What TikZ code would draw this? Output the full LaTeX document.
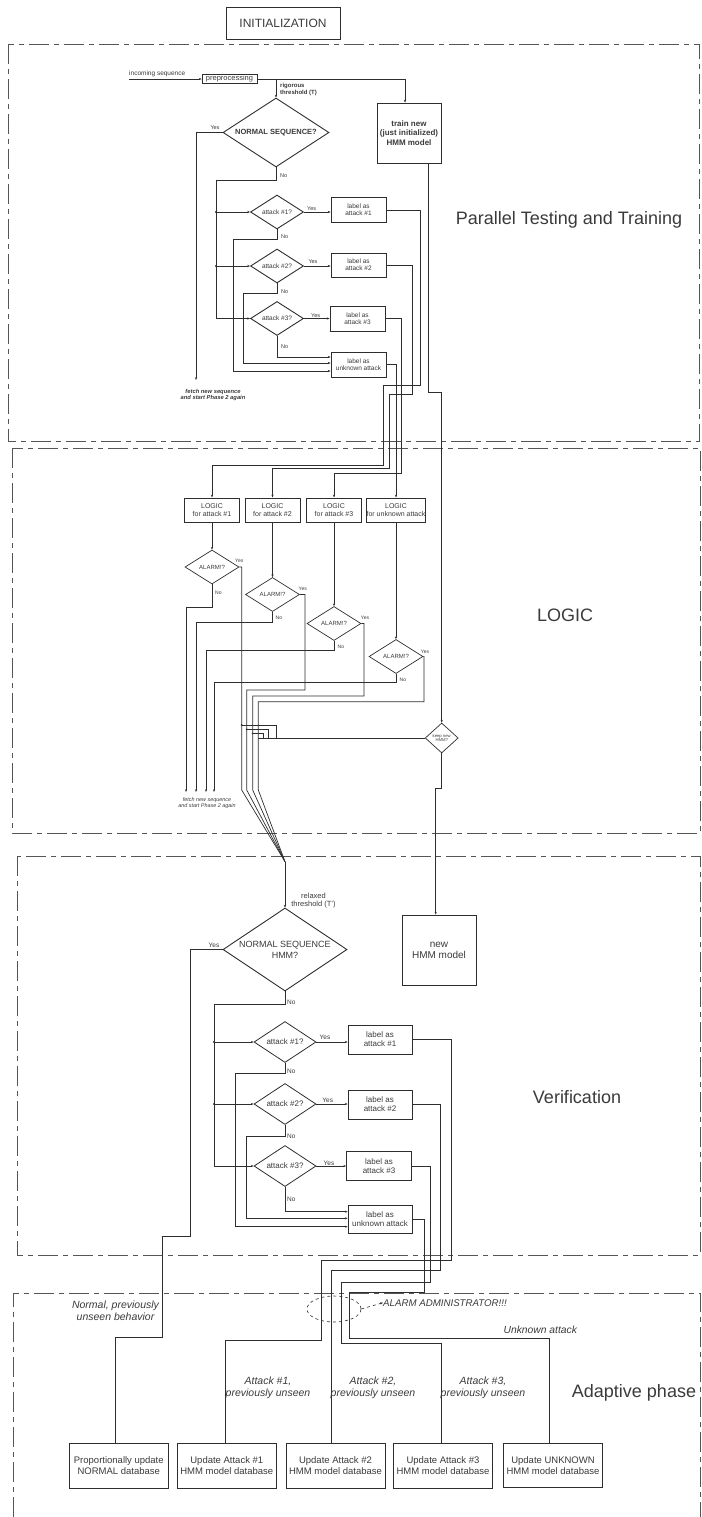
\documentclass[tikz,border=0pt]{standalone}
\usepackage{fontspec}
\setmainfont{Liberation Sans}
\usetikzlibrary{shapes.geometric,arrows.meta}
\definecolor{lc}{HTML}{2E2E2E}
\definecolor{tc}{HTML}{3A3A3A}
\definecolor{bc}{HTML}{555555}
\newcommand{\fsz}[2]{\fontsize{#1}{#2}\selectfont}
\begin{document}
\begin{tikzpicture}[x=1pt,y=-1pt,
  ln/.style={draw=lc,line width=0.7pt},
  thk/.style={draw=lc,line width=0.95pt},
  arr/.style={-{Stealth[length=2.8pt,width=2.2pt]}},
  panel/.style={draw=bc,line width=0.9pt,dash pattern=on 20pt off 5pt on 5pt off 5pt},
  bx/.style={draw=lc,line width=0.9pt,rectangle,inner sep=0pt,align=center,text=tc},
  dm/.style={draw=lc,line width=0.9pt,diamond,inner sep=0pt,align=center,text=tc},
  lb/.style={text=tc,inner sep=0pt},
  yn/.style={text=tc,inner sep=0pt,font=\fsz{5.5}{6}},
  dot/.style={circle,fill=lc,inner sep=0pt,minimum size=2.4pt},
]
\useasboundingbox (0,0) rectangle (701,1517);

% ---------- panels ----------
\draw[panel] (8,44) rectangle (699,441);
\draw[panel] (12,448) rectangle (700,833);
\draw[panel] (17,856) rectangle (700,1255);
\draw[panel] (13,1517) -- (13,1293) -- (700,1293) -- (700,1517);

\node[bx,line width=0.8pt,minimum width=114pt,minimum height=32pt,font=\fsz{12}{14}] (init) at (283,23) {INITIALIZATION};

\node[lb,font=\fsz{18}{20}] (t1) at (569,220) {Parallel Testing and Training};
\node[lb,font=\fsz{18}{20}] (t2) at (565,615) {LOGIC};
\node[lb,font=\fsz{18}{20}] (t3) at (577,1097) {Verification};
\node[lb,font=\fsz{18}{20}] (t4) at (634,1393) {Adaptive phase};

% ---------- panel 1 ----------
\node[bx,line width=0.6pt,minimum width=55pt,minimum height=8.5pt,font=\fsz{7.5}{8}] (pre) at (229.5,79) {preprocessing};
\coordinate (inc) at (129,79);
\node[lb,anchor=south west,font=\fsz{6.5}{7}] (inct) at (129,77.5) {incoming sequence};
\draw[ln,arr] (inc) -- (pre.west);

\node[dm,minimum width=106pt,minimum height=69pt,aspect=1.54,font=\bfseries\fsz{7.5}{9}] (n1) at (276,132.5) {NORMAL SEQUENCE?};
\node[bx,minimum width=64pt,minimum height=60pt,font=\bfseries\fsz{8}{9.2}] (train) at (409,133) {train new\\(just initialized)\\HMM model};
\draw[thk,arr] (pre.east) -| ([xshift=-4pt]train.north);
\coordinate (j0) at (276,79);
\draw[thk,arr] (j0) -- (n1.north);
\node[lb,anchor=north west,align=left,font=\bfseries\fsz{6}{7}] (rig) at (280,83) {rigorous\\threshold (T)};

\coordinate (f1) at (196,380);
\draw[thk,arr] (n1.west) -- (196,132.5) -- (f1);
\node[yn] at (215,128) {Yes};
\node[lb,font=\bfseries\itshape\fsz{5.8}{6.5},align=center] (fetch1) at (213,395) {fetch new sequence\\and start Phase 2 again};

\node[dm,minimum width=53pt,minimum height=34pt,aspect=1.56,font=\fsz{6.5}{7}] (a1) at (277,212) {attack \#1?};
\node[dm,minimum width=53pt,minimum height=34pt,aspect=1.56,font=\fsz{6.5}{7}] (a2) at (277,266) {attack \#2?};
\node[dm,minimum width=53pt,minimum height=34pt,aspect=1.56,font=\fsz{6.5}{7}] (a3) at (277,318.5) {attack \#3?};

\node[bx,minimum width=55pt,minimum height=25pt,font=\fsz{6.5}{7.2}] (l1) at (358.5,210) {label as\\attack \#1};
\node[bx,minimum width=55pt,minimum height=24pt,font=\fsz{6.5}{7.2}] (l2) at (358.5,265) {label as\\attack \#2};
\node[bx,minimum width=55pt,minimum height=25pt,font=\fsz{6.5}{7.2}] (l3) at (357.5,318.5) {label as\\attack \#3};
\node[bx,minimum width=55pt,minimum height=25pt,font=\fsz{6.5}{7.2}] (lu) at (358.5,364.5) {label as\\unknown attack};

\draw[thk,arr] (n1.south) -- (276,180) -| (216,318.5) -- (a3.west);
\node[yn,anchor=west] at (280,176) {No};
\draw[thk,arr] (216,212) -- (a1.west);
\draw[thk,arr] (216,266) -- (a2.west);
\node[dot] at (216,212) {};
\node[dot] at (216,266) {};

\draw[thk,arr] (a1.east) -- (a1.east -| l1.west);
\draw[thk,arr] (a2.east) -- (a2.east -| l2.west);
\draw[thk,arr] (a3.east) -- (a3.east -| l3.west);
\node[yn] at (311.7,209) {Yes};
\node[yn] at (313,261.7) {Yes};
\node[yn] at (315.7,316) {Yes};

\draw[thk,arr] (a1.south) -- (277,239) -- (233,239) -- (233,371) -- (lu.west |- 0,371);
\draw[thk,arr] (a2.south) -- (277,293) -- (243,293) -- (243,363) -- (lu.west |- 0,363);
\draw[thk,arr] (a3.south) -- (277,357) -- (lu.west |- 0,357);
\node[yn,anchor=west] at (281,237) {No};
\node[yn,anchor=west] at (281,292) {No};
\node[yn,anchor=west] at (281,347) {No};

% ---------- panel 2 ----------
\node[bx,line width=0.7pt,minimum width=55pt,minimum height=24.3pt,font=\fsz{7}{7.7}] (L1) at (212,510) {LOGIC\\for attack \#1};
\node[bx,line width=0.7pt,minimum width=55pt,minimum height=24.3pt,font=\fsz{7}{7.7}] (L2) at (272.5,510) {LOGIC\\for attack \#2};
\node[bx,line width=0.7pt,minimum width=55pt,minimum height=24.3pt,font=\fsz{7}{7.7}] (L3) at (334,510) {LOGIC\\for attack \#3};
\node[bx,line width=0.7pt,minimum width=58pt,minimum height=24.3pt,font=\fsz{7}{7.7}] (L4) at (396,510) {LOGIC\\for unknown attack};

\draw[ln,arr] (l1.east) -- (420.7,210) -- (420.7,385.7) -- (383,385.7) -- (383,465) -- (212,465) -- (L1.north);
\draw[ln,arr] (l2.east) -- (412.7,265) -- (412.7,394) -- (389,394) -- (389,468) -- (272.5,468) -- (L2.north);
\draw[ln,arr] (l3.east) -- (401.7,318.5) -- (401.7,473) -- (334,473) -- (L3.north);
\draw[ln,arr] (lu.east) -| (L4.north);

\node[dm,line width=0.7pt,minimum width=54pt,minimum height=34pt,aspect=1.6,font=\fsz{6}{7}] (al1) at (212,567) {ALARM!?};
\node[dm,line width=0.7pt,minimum width=54pt,minimum height=34pt,aspect=1.6,font=\fsz{6}{7}] (al2) at (272.5,594.5) {ALARM!?};
\node[dm,line width=0.7pt,minimum width=54pt,minimum height=34pt,aspect=1.6,font=\fsz{6}{7}] (al3) at (334,623.5) {ALARM!?};
\node[dm,line width=0.7pt,minimum width=54pt,minimum height=34pt,aspect=1.6,font=\fsz{6}{7}] (al4) at (396,656.5) {ALARM!?};
\draw[ln,arr] (L1.south) -- (al1.north);
\draw[ln,arr] (L2.south) -- (al2.north);
\draw[ln,arr] (L3.south) -- (al3.north);
\draw[ln,arr] (L4.south) -- (al4.north);

\node[yn,font=\fsz{5}{6}] at (239.3,561) {Yes};
\node[yn,font=\fsz{5}{6}] at (302.7,589) {Yes};
\node[yn,font=\fsz{5}{6}] at (365,617.7) {Yes};
\node[yn,font=\fsz{5}{6}] at (425,652) {Yes};
\node[yn,font=\fsz{5}{6},anchor=west] at (215,592.7) {No};
\node[yn,font=\fsz{5}{6},anchor=west] at (275.5,618) {No};
\node[yn,font=\fsz{5}{6},anchor=west] at (337.5,646.7) {No};
\node[yn,font=\fsz{5}{6},anchor=west] at (399.5,680) {No};

\coordinate (f2a) at (186,792);
\coordinate (f2b) at (196,792);
\coordinate (f2c) at (206,792);
\coordinate (f2d) at (214,792);
\draw[ln,arr] (al1.south) -- (212,607.5) -- (186,607.5) -- (f2a);
\draw[ln,arr] (al2.south) -- (272.5,622) -- (196,622) -- (f2b);
\draw[ln,arr] (al3.south) -- (334,650) -- (206,650) -- (f2c);
\draw[ln,arr] (al4.south) -- (396,682) -- (214,682) -- (f2d);
\node[lb,font=\itshape\fsz{5.4}{6},align=center] (fetch2) at (207,803.5) {fetch new sequence\\and start Phase 2 again};

\coordinate (conv) at (285,861.7);
\draw[ln] (al1.east) -- (241.7,567) -- (241.7,790) -- (conv);
\draw[ln] (al2.east) -- (305,594.5) -- (305,690) -- (246.7,690) -- (246.7,790) -- (conv);
\draw[ln] (al3.east) -- (364,623.5) -- (364,696) -- (252.7,696) -- (252.7,790) -- (conv);
\draw[ln] (al4.east) -- (424,656.5) -- (424,701.7) -- (258.3,701.7) -- (258.3,790) -- (conv);

\node[dm,line width=0.7pt,minimum width=33pt,minimum height=30pt,aspect=1.1,font=\fsz{4.2}{4.8}] (keep) at (441.7,738) {keep new\\HMM?};
\draw[ln,arr] ([xshift=19.3pt]train.south) -- (428.3,392.7) -- (441.7,392.7) -- (keep.north);
\draw[ln] (keep.west) -- (258.3,738);
\draw[ln] (276.7,738) -- (276.7,725) -- (241.7,725);
\draw[ln] (268.3,738) -- (268.3,729.3) -- (246.7,729.3);
\draw[ln] (263.3,738) -- (263.3,733.3) -- (252.7,733.3);
\node[dot,minimum size=2pt] at (241.7,725) {};
\node[dot,minimum size=2pt] at (246.7,729.3) {};
\node[dot,minimum size=2pt] at (252.7,733.3) {};

\node[bx,line width=0.8pt,minimum width=74pt,minimum height=70pt,font=\fsz{10}{11}] (newhmm) at (439,950) {new\\HMM model};
\draw[ln,arr] (keep.south) -- (441.7,788.3) -- (435.7,788.3) -- ([xshift=-3.3pt]newhmm.north);

% ---------- panel 3 ----------
\node[dm,minimum width=124pt,minimum height=83pt,aspect=1.5,font=\fsz{9}{11}] (n2) at (285,949.5) {NORMAL SEQUENCE\\HMM?};
\draw[ln,arr] (conv) -- (n2.north);
\node[lb,align=center,font=\fsz{7.5}{8}] (relax) at (313.5,900.5) {relaxed\\threshold (T')};

\node[dm,line width=0.8pt,minimum width=62pt,minimum height=41pt,aspect=1.5,font=\fsz{8}{9}] (b1) at (285,1042) {attack \#1?};
\node[dm,line width=0.8pt,minimum width=62pt,minimum height=41pt,aspect=1.5,font=\fsz{8}{9}] (b2) at (285,1104) {attack \#2?};
\node[dm,line width=0.8pt,minimum width=62pt,minimum height=41pt,aspect=1.5,font=\fsz{8}{9}] (b3) at (285,1166) {attack \#3?};

\node[bx,line width=0.8pt,minimum width=64pt,minimum height=29pt,font=\fsz{8}{8.8}] (m1) at (380,1039.5) {label as\\attack \#1};
\node[bx,line width=0.8pt,minimum width=64pt,minimum height=29pt,font=\fsz{8}{8.8}] (m2) at (380,1104.5) {label as\\attack \#2};
\node[bx,line width=0.8pt,minimum width=65pt,minimum height=29pt,font=\fsz{8}{8.8}] (m3) at (379,1166) {label as\\attack \#3};
\node[bx,line width=0.8pt,minimum width=64pt,minimum height=28pt,font=\fsz{8}{8.8}] (mu) at (380,1219) {label as\\unknown attack};

\draw[ln,arr] (n2.south) -- (285,1004) -- (214,1004) -- (214,1166) -- (b3.west);
\draw[ln,arr] (214,1042) -- (b1.west);
\draw[ln,arr] (214,1104) -- (b2.west);
\node[dot] at (214,1042) {};
\node[dot] at (214,1104) {};
\node[yn,font=\fsz{6.5}{7}] at (214,945) {Yes};
\node[yn,font=\fsz{6.5}{7},anchor=west] at (287,1002.3) {No};

\draw[ln,arr] (b1.east) -- (b1.east -| m1.west);
\draw[ln,arr] (b2.east) -- (b2.east -| m2.west);
\draw[ln,arr] (b3.east) -- (b3.east -| m3.west);
\node[yn,font=\fsz{6.5}{7}] at (325,1037.3) {Yes};
\node[yn,font=\fsz{6.5}{7}] at (327.7,1100) {Yes};
\node[yn,font=\fsz{6.5}{7}] at (329,1163.3) {Yes};

\draw[ln,arr] (b1.south) -- (285,1073.3) -- (235,1073.3) -- (235,1226.7) -- (mu.west |- 0,1226.7);
\draw[ln,arr] (b2.south) -- (285,1136.7) -- (246,1136.7) -- (246,1218.3) -- (mu.west |- 0,1218.3);
\draw[ln,arr] (b3.south) -- (285,1211.7) -- (mu.west |- 0,1211.7);
\node[yn,font=\fsz{6.5}{7},anchor=west] at (287,1071.7) {No};
\node[yn,font=\fsz{6.5}{7},anchor=west] at (287,1136) {No};
\node[yn,font=\fsz{6.5}{7},anchor=west] at (287,1199.3) {No};

% ---------- panel 4 ----------
\node[bx,line width=0.8pt,minimum width=99pt,minimum height=45pt,font=\fsz{9.5}{10.7}] (u0) at (118.8,1465.8) {Proportionally update\\NORMAL database};
\node[bx,line width=0.8pt,minimum width=98.3pt,minimum height=45pt,font=\fsz{9.5}{10.7}] (u1) at (226.8,1465.8) {Update Attack \#1\\HMM model database};
\node[bx,line width=0.8pt,minimum width=99pt,minimum height=45pt,font=\fsz{9.5}{10.7}] (u2) at (335.5,1465.8) {Update Attack \#2\\HMM model database};
\node[bx,line width=0.8pt,minimum width=99.4pt,minimum height=45pt,font=\fsz{9.5}{10.7}] (u3) at (443,1465.8) {Update Attack \#3\\HMM model database};
\node[bx,line width=0.8pt,minimum width=99.4pt,minimum height=44.7pt,font=\fsz{9.5}{10.7}] (u4) at (553,1465.5) {Update UNKNOWN\\HMM model database};

\draw[ln] (n2.west) -- (190.7,949.5) -- (190.7,1236.7) -- (162.7,1236.7) -- (162.7,1337) -- (115.7,1337) -- (u0.north -| 115.7,0);
\draw[ln] (m1.east) -- (451,1039.5) -- (451,1260.7) -- (321,1260.7) -- (321,1340.7) -- (225,1340.7) -- (u1.north -| 225,0);
\draw[ln] (m2.east) -- (440,1104.5) -- (440,1270) -- (331,1270) -- (u2.north -| 331,0);
\draw[ln] (m3.east) -- (430,1166) -- (430,1282.7) -- (341.7,1282.7) -- (341.7,1343.3) -- (441,1343.3) -- (u3.north -| 441,0);
\draw[ln] (mu.east) -- (424,1219) -- (424,1292.7) -- (349.3,1292.7) -- (349.3,1338.3) -- (549.3,1338.3) -- (u4.north -| 549.3,0);

\node[ellipse,draw=lc,dashed,line width=0.6pt,minimum width=54pt,minimum height=26pt,inner sep=0pt] (ell) at (334,1309) {};
\node[lb,anchor=west,font=\itshape\fsz{9.7}{11}] (adm) at (383,1302.7) {ALARM ADMINISTRATOR!!!};
\draw[draw=lc,line width=0.6pt,dashed,arr] (ell.east) -- (adm.west);

\node[lb,align=center,font=\itshape\fsz{10.5}{12}] (lnorm) at (115.5,1311) {Normal, previously\\unseen behavior};
\node[lb,align=center,font=\itshape\fsz{10.5}{11.5}] (la1) at (268,1388) {Attack \#1,\\previously unseen};
\node[lb,align=center,font=\itshape\fsz{10.5}{11.5}] (la2) at (373,1388) {Attack \#2,\\previously unseen};
\node[lb,align=center,font=\itshape\fsz{10.5}{11.5}] (la3) at (483,1388) {Attack \#3,\\previously unseen};
\node[lb,font=\itshape\fsz{10.3}{11}] (lunk) at (540.3,1330) {Unknown attack};

\end{tikzpicture}
\end{document}
